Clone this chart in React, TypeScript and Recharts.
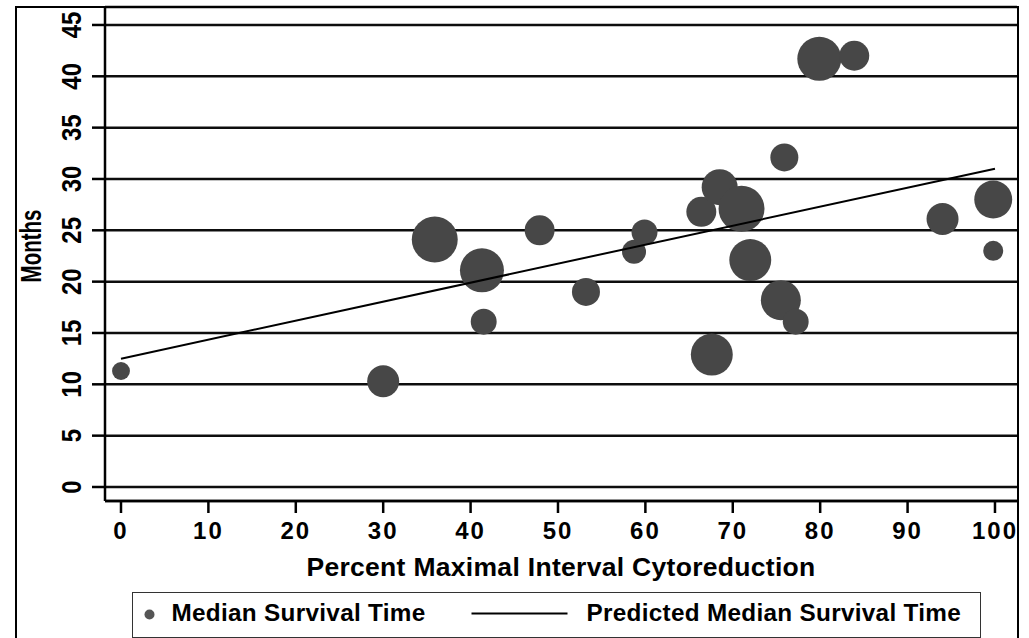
import React from 'react';
import { ScatterChart, Scatter, XAxis, YAxis, ZAxis, CartesianGrid, Legend, Label } from 'recharts';

const FONT = '"Liberation Sans", Arial, Helvetica, sans-serif';

// Data
const cytoreductionPct = [0, 30.0, 35.9, 41.3, 41.5, 47.9, 53.2, 58.7, 59.9, 66.4, 67.6, 68.5, 71.0, 72.0, 75.5, 75.9, 77.2, 79.9, 83.9, 94.0, 99.8, 99.8];
const medianSurvivalMonths = [11.3, 10.3, 24.1, 21.1, 16.1, 25.0, 19.0, 22.9, 24.8, 26.8, 12.9, 29.2, 27.1, 22.1, 18.2, 32.1, 16.1, 41.7, 42.0, 26.1, 28.0, 23.0];
const bubbleWeights = [20, 64, 132, 121, 42, 56, 49, 36, 42, 56, 110, 81, 132, 110, 100, 49, 42, 121, 56, 64, 90, 25];
const fitX = [0, 100];
const fitY = [12.5, 31.0];
const xTicks = [0, 10, 20, 30, 40, 50, 60, 70, 80, 90, 100];
const yTicks = [0, 5, 10, 15, 20, 25, 30, 35, 40, 45];
const seriesNames = ['Median Survival Time', 'Predicted Median Survival Time'];
const xTitle = 'Percent Maximal Interval Cytoreduction';
const yTitle = 'Months';

const points = cytoreductionPct.map((x, i) => ({ x, y: medianSurvivalMonths[i], z: bubbleWeights[i] }));
const fitLine = fitX.map((x, i) => ({ x, y: fitY[i] }));

const YTick = (props: any) => {
  const { x, y, payload } = props;
  return (
    <text
      x={0}
      y={0}
      transform={`translate(${x}, ${y}) scale(1.12, 1) rotate(-90)`}
      textAnchor="middle"
      fontSize={24}
      fontWeight="bold"
      fontFamily={FONT}
      fill="#000"
    >
      {payload.value}
    </text>
  );
};

const MonthsLabel = (props: any) => {
  const vb = props.viewBox || { x: 0, y: 7, width: 105, height: 494 };
  const x = vb.x + 41;
  const y = vb.y + vb.height / 2 - 8;
  return (
    <text
      x={0}
      y={0}
      transform={`translate(${x}, ${y}) scale(1.4, 1) rotate(-90)`}
      textAnchor="middle"
      fontSize={20.5}
      fontWeight="bold"
      fontFamily={FONT}
      fill="#000"
    >
      {yTitle}
    </text>
  );
};

const LegendBox = (props: any) => {
  const payload = props.payload || [];
  const dotItem = payload.find((p: any) => p.type !== 'line');
  const lineItem = payload.find((p: any) => p.type === 'line');
  const scatterName = dotItem?.value ?? seriesNames[0];
  const lineName = lineItem?.value ?? seriesNames[1];
  const textStyle: React.CSSProperties = {
    position: 'absolute',
    top: 8,
    lineHeight: '24px',
    whiteSpace: 'nowrap',
    letterSpacing: 0.3,
  };
  return (
    <div
      style={{
        position: 'relative',
        width: 849,
        height: 46,
        border: '1.5px solid #333',
        boxSizing: 'border-box',
        background: '#fff',
        fontFamily: FONT,
        fontWeight: 'bold',
        fontSize: 24.3,
        color: '#000',
      }}
    >
      <svg style={{ position: 'absolute', left: 0, top: 0 }} width={846} height={43}>
        <circle cx={16.5} cy={21.5} r={5} fill="#555" />
        <line x1={338.5} x2={434.5} y1={20.5} y2={20.5} stroke="#000" strokeWidth={2} />
      </svg>
      <span style={{ ...textStyle, left: 38.5 }}>{scatterName}</span>
      <span style={{ ...textStyle, left: 453.5 }}>{lineName}</span>
    </div>
  );
};

export default function App() {
  return (
    <div
      style={{
        position: 'fixed',
        left: 0,
        top: 0,
        width: 1029,
        height: 638,
        overflow: 'hidden',
        background: '#fff',
      }}
    >
      <ScatterChart width={1029} height={638} margin={{ top: 7, right: 12, bottom: 0, left: 0 }}>
        <CartesianGrid horizontal vertical={false} stroke="#000" strokeWidth={2.5} strokeOpacity={0.95} />
        <XAxis
          type="number"
          dataKey="x"
          domain={[-1.83, 102.52]}
          allowDataOverflow
          ticks={xTicks}
          interval={0}
          height={137}
          tickSize={12}
          tickMargin={9}
          axisLine={{ stroke: '#000', strokeWidth: 2.5 }}
          tickLine={{ stroke: '#000', strokeWidth: 2.5 }}
          tick={{ fontSize: 24, fontWeight: 'bold', fill: '#000', fontFamily: FONT, letterSpacing: 2 }}
        >
          <Label
            value={xTitle}
            position="insideBottom"
            offset={62}
            fontSize={26.5}
            fontWeight="bold"
            fill="#000"
            fontFamily={FONT}
            letterSpacing={0.3}
          />
        </XAxis>
        <YAxis
          type="number"
          dataKey="y"
          domain={[-1.364, 46.75]}
          allowDataOverflow
          ticks={yTicks}
          interval={0}
          width={105}
          tickSize={13}
          tickMargin={11}
          axisLine={{ stroke: '#000', strokeWidth: 2.5 }}
          tickLine={{ stroke: '#000', strokeWidth: 2.5 }}
          tick={<YTick />}
        >
          <Label content={MonthsLabel} />
        </YAxis>
        <ZAxis type="number" dataKey="z" domain={[0, 150]} range={[0, 600 * Math.PI]} />
        <Scatter name={seriesNames[0]} data={points} fill="#474747" isAnimationActive={false} />
        <Scatter
          name={seriesNames[1]}
          data={fitLine}
          fill="#000"
          line={{ stroke: '#000', strokeWidth: 2 }}
          shape={() => <g />}
          legendType="line"
          isAnimationActive={false}
        />
        <Legend
          layout="horizontal"
          verticalAlign="middle"
          align="center"
          wrapperStyle={{ left: 132, top: 592, width: 849, height: 46 }}
          content={<LegendBox />}
        />
      </ScatterChart>
      <div
        style={{
          position: 'absolute',
          left: 15,
          top: 6,
          width: 1004,
          height: 700,
          border: '2px solid #000',
          boxSizing: 'border-box',
          pointerEvents: 'none',
        }}
      />
    </div>
  );
}
